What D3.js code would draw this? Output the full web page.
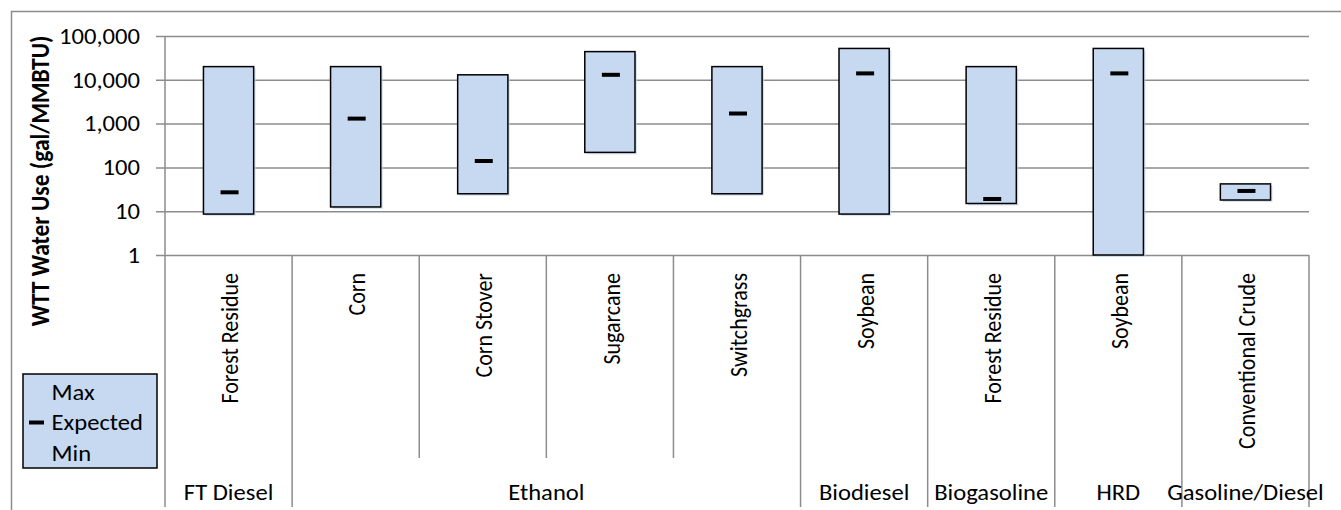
<!DOCTYPE html>
<html>
<head>
<meta charset="utf-8">
<script src="https://cdn.jsdelivr.net/npm/d3@7"></script>
<style>
  html, body { margin: 0; padding: 0; background: #fff; }
  svg { display: block; }
  text { font-family: Carlito, Calibri, Lato, sans-serif; fill: #000; }
</style>
</head>
<body>
<svg id="chart" width="1341" height="510"></svg>
<script>
// Well-to-tank water use by fuel pathway (gal/MMBTU), log scale
const groups = ["FT Diesel", "Ethanol", "Ethanol", "Ethanol", "Ethanol", "Biodiesel", "Biogasoline", "HRD", "Gasoline/Diesel"];
const feedstocks = ["Forest Residue", "Corn", "Corn Stover", "Sugarcane", "Switchgrass", "Soybean", "Forest Residue", "Soybean", "Conventional Crude"];
const maxValues = [20000, 20000, 13000, 44000, 20000, 52000, 20000, 52000, 42];
const expectedValues = [27, 1300, 140, 13000, 1700, 14000, 19, 14000, 29];
const minValues = [8.6, 12.5, 25, 220, 25, 8.6, 15, 1, 18];
const tickValues = [1, 10, 100, 1000, 10000, 100000];
const legendLabels = ["Max", "Expected", "Min"];
const yTitle = "WTT Water Use (gal/MMBTU)";

const rows = feedstocks.map((f, i) => ({
  id: i, group: groups[i], feedstock: f,
  max: maxValues[i], expected: expectedValues[i], min: minValues[i]
}));

const svg = d3.select("#chart");
const plot = { left: 165, right: 1309, top: 36, bottom: 255 };
const labelBottom = 507, innerSepBottom = 458;
const SX = 1.12;           // horizontal text stretch
const FS = 22;             // base font size
const fill = "#C6D9F1";
const gridColor = "#8c8c8c";

const x = d3.scaleBand().domain(rows.map(d => d.id)).range([plot.left, plot.right]).padding(0);
const y = d3.scaleLog().domain([1, 100000]).range([plot.bottom, plot.top]);
const barW = x.bandwidth() * 0.395;

function stext(g, str, tx, ty, opts = {}) {
  const t = g.append("text")
    .attr("transform", `translate(${tx},${ty}) scale(${SX},1)` + (opts.rotate ? " rotate(-90)" : ""))
    .attr("text-anchor", opts.anchor || "start")
    .attr("dy", opts.dy || "0.35em")
    .style("font-size", (opts.size || FS) + "px")
    .text(str);
  if (opts.bold) t.style("font-weight", "bold");
  return t;
}

// outer chart frame
svg.append("rect").attr("x", 11.5).attr("y", 11.5).attr("width", 1400).attr("height", 600)
  .attr("fill", "none").attr("stroke", gridColor).attr("stroke-width", 1.5);

// gridlines with left tick stubs
const yAxis = d3.axisLeft(y).tickValues(tickValues).tickSize(-(plot.right - plot.left) - 9).tickFormat("");
const yg = svg.append("g").attr("transform", `translate(${plot.right},0)`).call(yAxis);
yg.select(".domain").remove();
yg.selectAll(".tick line").attr("stroke", gridColor).attr("stroke-width", 1.5)
  .attr("x1", 0).attr("x2", -(plot.right - plot.left) - 9);

// value axis line
svg.append("line").attr("x1", plot.left).attr("x2", plot.left).attr("y1", plot.top).attr("y2", labelBottom)
  .attr("stroke", gridColor).attr("stroke-width", 1.5);

// tick labels
const tickG = svg.append("g");
tickValues.forEach(v => stext(tickG, d3.format(",")(v), 140, y(v), { anchor: "end" }));

// category separators
const sepG = svg.append("g");
rows.forEach((d, i) => {
  const xr = x(d.id) + x.bandwidth();
  const last = i === rows.length - 1;
  const groupEnd = last || rows[i + 1].group !== d.group;
  sepG.append("line").attr("x1", xr).attr("x2", xr).attr("y1", plot.bottom)
    .attr("y2", groupEnd ? labelBottom : innerSepBottom)
    .attr("stroke", gridColor).attr("stroke-width", 1.5);
});

// feedstock labels (rotated)
const catG = svg.append("g");
rows.forEach(d => {
  stext(catG, d.feedstock, x(d.id) + x.bandwidth() / 2 + 1, 273, { rotate: true, anchor: "end" });
});

// group labels
const grpG = svg.append("g");
const grpNames = Array.from(new Set(groups));
grpNames.forEach(g => {
  const members = rows.filter(d => d.group === g);
  const x0 = x(members[0].id), x1 = x(members[members.length - 1].id) + x.bandwidth();
  stext(grpG, g, (x0 + x1) / 2, 492, { anchor: "middle" });
});

// floating range bars
const barG = svg.append("g");
barG.selectAll("rect.shadow").data(rows).join("rect").attr("class", "shadow")
  .attr("x", d => x(d.id) + x.bandwidth() / 2 - barW / 2 + 2)
  .attr("y", d => y(d.max) + 2)
  .attr("width", barW).attr("height", d => y(d.min) - y(d.max))
  .attr("fill", fill).attr("opacity", 0.7);
barG.selectAll("rect.bar").data(rows).join("rect").attr("class", "bar")
  .attr("x", d => x(d.id) + x.bandwidth() / 2 - barW / 2)
  .attr("y", d => y(d.max))
  .attr("width", barW).attr("height", d => y(d.min) - y(d.max))
  .attr("fill", fill).attr("stroke", "#000").attr("stroke-width", 1.5);

// expected value markers
barG.selectAll("rect.exp").data(rows).join("rect").attr("class", "exp")
  .attr("x", d => x(d.id) + x.bandwidth() / 2 + 1 - 9)
  .attr("y", d => y(d.expected) - 2)
  .attr("width", 18).attr("height", 4).attr("fill", "#000");

// y-axis title
stext(svg.append("g"), yTitle, 40, 181, { rotate: true, anchor: "middle", bold: true, size: 23.5 });

// legend
const lg = svg.append("g");
lg.append("rect").attr("x", 23).attr("y", 374).attr("width", 134).attr("height", 94)
  .attr("fill", fill).attr("stroke", "#000").attr("stroke-width", 1.5);
legendLabels.forEach((t, i) => stext(lg, t, 51.5, 392 + i * 30.5));
lg.append("rect").attr("x", 29).attr("y", 420.5).attr("width", 15).attr("height", 4).attr("fill", "#000");
</script>
</body>
</html>
